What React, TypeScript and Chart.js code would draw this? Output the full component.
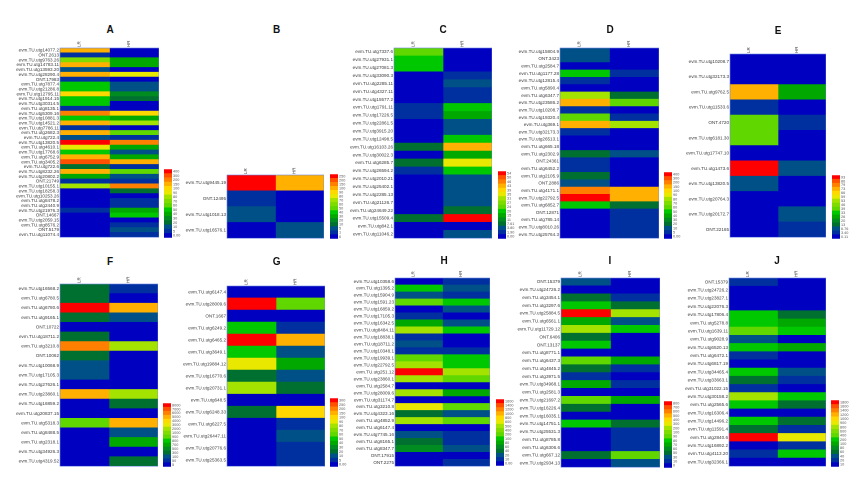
import React, { useEffect, useRef } from "react";
import { Chart, registerables } from "chart.js";

Chart.register(...registerables);

const columns = ["LR", "HR"];
const palette = ["#0000c0", "#0030a0", "#005088", "#007030", "#008c20", "#00a800", "#00c800", "#60d800", "#80dc00", "#a4e200", "#e8e800", "#ffd800", "#ffb000", "#ff8000", "#ff5000", "#ff0000"];
const g = (s: string) => (s.startsWith("ONT") ? s : "evm.TU.utg" + s);

const aRows = ["14077.2", "ONT.2613", "9763.26", "14783.11", "13593.20", "28290.4", "ONT.17983", "7877.4", "21286.8", "12795.11", "1914.15", "30314.5", "8135.1", "5309.16", "10881.3", "14521.2", "7786.11", "2682.3", "722.4", "13820.5", "4610.1", "17768.6", "6752.9", "3405.2", "722.6", "8232.26", "20802.2", "ONT.21749", "10155.1", "18258.3", "10253.26", "8478.2", "2440.9", "21976.3", "ONT.14667", "2059.15", "8576.2", "ONT.5179", "11074.4"];
const aLR = [150, 5, 70, 150, 10, 150, 5, 50, 50, 100, 50, 50, 5, 200, 50, 150, 5, 150, 10, 400, 90, 50, 150, 300, 20, 150, 40, 5, 80, 0, 0, 0, 0, 5, 0, 0, 0, 0, 0];
const aHR = [0, 0, 40, 40, 0, 90, 0, 10, 10, 30, 20, 0, 0, 100, 40, 80, 0, 60, 5, 200, 40, 10, 40, 150, 5, 60, 10, 5, 200, 20, 0, 5, 5, 40, 50, 0, 5, 10, 5];
const aTicks = ["0.00", "5", "10", "20", "30", "40", "50", "60", "70", "80", "90", "100", "150", "200", "300", "400"];

const bRows = ["9445.19", "ONT.12495", "1018.13", "16576.1"];
const bLR = [250, 1, 5, 0];
const bHR = [100, 0, 0, 5];
const bTicks = ["0", "1", "5", "10", "20", "30", "40", "50", "60", "70", "80", "90", "100", "150", "200", "250"];

const cRows = ["7337.6", "27931.1", "27081.3", "33090.3", "2285.11", "4327.11", "15577.2", "1791.11", "17226.5", "22861.5", "3915.20", "12498.5", "16103.26", "30022.3", "6285.7", "26594.2", "2010.21", "25402.1", "2285.13", "21126.7", "24649.22", "15509.4", "842.1", "11046.2"];
const cLR = [24, 20, 20, 0, 0, 0, 0, 1.9, 1.9, 0, 0, 0, 7.61, 0, 7.61, 1.9, 0, 0, 0, 0, 0, 7.61, 0, 0];
const cHR = [0, 0, 0, 1.9, 3.8, 1.9, 1.9, 20, 15, 3.8, 3.8, 20, 43, 15, 35, 20, 3.8, 3.8, 3.8, 3.8, 7.61, 54, 0, 3.8];
const cTicks = ["0.00", "1.90", "3.80", "7.61", "11", "15", "20", "24", "27", "31", "35", "39", "43", "46", "50", "54"];

const dRows = ["15804.9", "ONT.3423", "2584.7", "1177.28", "12815.4", "5890.4", "6347.7", "23586.2", "10208.7", "19320.4", "369.1", "32173.3", "26513.1", "665.18", "2302.9", "ONT.24361", "6452.2", "2105.9", "ONT.2886", "4171.1", "22792.5", "6852.7", "ONT.12871", "785.14", "8010.26", "25764.3"];
const dLR = [10, 10, 0, 50, 5, 0, 80, 150, 5, 60, 150, 5, 0, 0, 20, 5, 5, 20, 10, 200, 400, 50, 0, 0, 0, 0];
const dHR = [0, 0, 0, 5, 0, 0, 20, 60, 0, 5, 80, 0, 0, 0, 10, 0, 0, 0, 0, 150, 150, 20, 5, 5, 5, 5];
const dTicks = ["0.00", "5", "10", "20", "30", "40", "50", "60", "70", "80", "90", "100", "150", "200", "300", "400"];

const eRows = ["10208.7", "32173.3", "9762.5", "11533.6", "ONT.4720", "6181.30", "17747.10", "1473.6", "13820.5", "20764.3", "20172.7", "ONT.22165"];
const eLR = [0.11, 0.11, 73, 3.4, 39, 39, 0.11, 93, 6.76, 0.11, 0.11, 0.11];
const eHR = [0.11, 0.11, 26, 0.11, 3.4, 0.11, 0.11, 6.76, 0.11, 0.11, 6.76, 3.4];
const eTicks = ["0.11", "3.40", "6.76", "13", "20", "26", "33", "39", "46", "53", "59", "66", "73", "79", "86", "93"];

const fRows = ["16568.2", "6780.5", "6780.6", "9165.1", "ONT.10722", "18711.2", "3210.8", "ONT.10062", "10068.9", "17105.3", "27626.1", "23860.1", "16859.2", "20837.15", "5318.3", "8488.5", "2318.1", "34926.3", "4319.52"];
const fLR = [300, 300, 8000, 300, 5, 300, 6000, 300, 100, 100, 5, 5000, 5, 5, 900, 5, 5, 5, 5];
const fHR = [50, 5, 5000, 100, 5, 5, 2000, 5, 5, 5, 5, 2000, 300, 5, 5000, 100, 700, 5, 300];
const fTicks = ["5", "50", "100", "300", "500", "700", "800", "900", "1000", "2000", "3000", "4000", "5000", "6000", "7000", "8000"];

const gRows = ["6147.4", "28009.6", "ONT.1667", "6249.2", "6465.2", "3649.1", "19884.12", "16770.6", "20731.1", "648.5", "6248.33", "6227.5", "26447.11", "20776.6", "25363.5"];
const gLR = [0, 300, 0, 50, 300, 50, 90, 20, 80, 0, 20, 0, 0, 0, 0];
const gHR = [0, 60, 0, 5, 150, 10, 40, 10, 20, 0, 100, 5, 10, 5, 5];
const gTicks = ["0.00", "5", "10", "20", "30", "40", "50", "60", "70", "80", "90", "100", "150", "200", "250", "300"];

const hRows = ["10358.6", "1395.2", "15904.9", "1591.23", "16859.2", "17105.3", "16342.5", "8484.11", "18838.1", "18711.2", "10348.1", "19939.1", "22792.5", "251.12", "23860.1", "2584.7", "28009.6", "31174.7", "3210.8", "4323.16", "4852.9", "6147.4", "7745.16", "8165.1", "8347.7", "ONT.17915", "ONT.2275"];
const hLR = [0, 100, 20, 200, 0, 10, 80, 500, 10, 20, 10, 200, 500, 1600, 500, 0, 500, 0, 600, 40, 500, 0, 20, 40, 60, 0, 0];
const hHR = [10, 20, 10, 100, 20, 0, 20, 100, 0, 0, 10, 100, 100, 500, 200, 0, 80, 0, 200, 20, 200, 0, 10, 10, 20, 0, 10];
const hTicks = ["0.00", "10", "20", "40", "60", "80", "100", "200", "400", "500", "600", "800", "1000", "1200", "1400", "1600"];

const iRows = ["ONT.15379", "24726.2", "3454.1", "3297.6", "25884.5", "6561.1", "11729.12", "ONT.6406", "ONT.13137", "8771.1", "6437.3", "4845.2", "3971.5", "34968.1", "2581.3", "21697.2", "16226.4", "16035.1", "14751.1", "25531.3", "8785.8", "6306.6", "667.12", "2934.13"];
const iLR = [30, 0, 50, 80, 800, 70, 200, 50, 80, 0, 90, 50, 10, 70, 0, 90, 50, 0, 80, 0, 0, 0, 50, 0];
const iHR = [0, 0, 10, 50, 200, 30, 80, 0, 0, 0, 70, 10, 0, 10, 0, 70, 0, 0, 50, 10, 10, 10, 90, 30];
const iTicks = ["0", "10", "30", "50", "60", "70", "80", "90", "100", "200", "300", "400", "500", "600", "700", "800"];

const jRows = ["ONT.15379", "24726.2", "23827.1", "22076.3", "17806.4", "5278.8", "1639.11", "9028.9", "6520.13", "6472.1", "6817.19", "34465.4", "33663.1", "31022.15", "30158.2", "2565.6", "16306.4", "14496.2", "11591.4", "2840.6", "16892.2", "4113.20", "32366.1"];
const jLR = [20, 10, 10, 10, 200, 200, 400, 40, 200, 20, 10, 200, 60, 20, 800, 200, 10, 200, 60, 1800, 10, 20, 10];
const jHR = [10, 10, 10, 10, 60, 100, 200, 10, 100, 10, 10, 40, 20, 10, 200, 60, 10, 60, 20, 900, 20, 200, 10];
const jTicks = ["10", "20", "40", "60", "80", "100", "200", "400", "600", "800", "900", "1000", "1200", "1400", "1600", "1800"];

// layout of each panel: plot box, colour bar box, title centre
const panels = [
  { name: "A", rows: aRows, lr: aLR, hr: aHR, ticks: aTicks, plot: [60, 47.7, 159, 241], bar: [164, 166, 172, 241], title: [110, 30] },
  { name: "B", rows: bRows, lr: bLR, hr: bHR, ticks: bTicks, plot: [227.3, 175, 324.7, 241.7], bar: [329.7, 171, 337.7, 241.7], title: [276.7, 30] },
  { name: "C", rows: cRows, lr: cLR, hr: cHR, ticks: cTicks, plot: [394.3, 47.7, 492.3, 241.7], bar: [497.7, 168, 506, 241.7], title: [443, 30] },
  { name: "D", rows: dRows, lr: dLR, hr: dHR, ticks: dTicks, plot: [560.3, 47.7, 659.3, 241.7], bar: [664, 169, 672.3, 241.7], title: [610, 30] },
  { name: "E", rows: eRows, lr: eLR, hr: eHR, ticks: eTicks, plot: [730, 54.3, 826.3, 241.7], bar: [831.7, 171.7, 840, 241.7], title: [778, 31] },
  { name: "F", rows: fRows, lr: fLR, hr: fHR, ticks: fTicks, plot: [60, 284, 158.3, 470], bar: [163.3, 400.3, 171.7, 470], title: [110, 262] },
  { name: "G", rows: gRows, lr: gLR, hr: gHR, ticks: gTicks, plot: [227.3, 286, 325, 470], bar: [330.3, 395.3, 338.3, 470], title: [276.7, 262] },
  { name: "H", rows: hRows, lr: hLR, hr: hHR, ticks: hTicks, plot: [395, 277.7, 490.3, 469.3], bar: [495.7, 396, 503.7, 469.3], title: [444, 261] },
  { name: "I", rows: iRows, lr: iLR, hr: iHR, ticks: iTicks, plot: [560.7, 277.7, 659.3, 470.3], bar: [664.3, 397.7, 672.7, 470.3], title: [610, 261] },
  { name: "J", rows: jRows, lr: jLR, hr: jHR, ticks: jTicks, plot: [729, 277.7, 826.3, 470], bar: [831.3, 397.3, 839.3, 470], title: [777, 261] },
];

const LABEL_W = 58;
const HEAD_H = 9;
const TEXT = "#3a3a3a";
const FONT = "Liberation Sans";
const SCALE = 2;

function colourFor(value: number, ticks: string[]) {
  let idx = 0;
  ticks.forEach((t, i) => {
    if (parseFloat(t) <= value) idx = i;
  });
  return palette[idx];
}

const frame = {
  id: "frame",
  afterDraw(chart: any) {
    const { ctx, chartArea: a } = chart;
    ctx.save();
    ctx.strokeStyle = "#6f86e0";
    ctx.lineWidth = 0.6;
    ctx.strokeRect(a.left, a.top, a.right - a.left, a.bottom - a.top);
    ctx.restore();
  },
};

function Heat({ p }: { p: (typeof panels)[number] }) {
  const ref = useRef<HTMLCanvasElement>(null);
  useEffect(() => {
    const chart = new Chart(ref.current!, {
      type: "bar",
      data: {
        labels: p.rows.map(g),
        datasets: [p.lr, p.hr].map((vals, i) => ({
          label: columns[i],
          data: vals.map(() => 1),
          backgroundColor: vals.map((v) => colourFor(v, p.ticks)),
          borderWidth: 0,
          barPercentage: 1,
          categoryPercentage: 1,
        })),
      },
      options: {
        indexAxis: "y",
        animation: false,
        responsive: false,
        devicePixelRatio: SCALE,
        layout: { padding: 0 },
        plugins: { legend: { display: false }, tooltip: { enabled: false } },
        scales: {
          x: {
            type: "linear",
            position: "top",
            stacked: true,
            min: 0,
            max: 2,
            grid: { display: false, drawTicks: false },
            border: { display: false },
            afterBuildTicks: (s: any) => {
              s.ticks = [{ value: 0.5 }, { value: 1.5 }];
            },
            afterFit: (s: any) => {
              s.height = HEAD_H;
            },
            ticks: {
              callback: (v: any) => columns[Math.floor(v)],
              font: { size: 4.5, family: FONT },
              color: TEXT,
              padding: 1,
              minRotation: 90,
              maxRotation: 90,
            },
          },
          y: {
            stacked: true,
            grid: { display: false, drawTicks: false },
            border: { display: false },
            afterFit: (s: any) => {
              s.width = LABEL_W;
            },
            ticks: { autoSkip: false, font: { size: 4.6, family: FONT }, color: TEXT, padding: 1 },
          },
        },
      } as any,
      plugins: [frame],
    });
    return () => chart.destroy();
  }, [p]);
  const [x0, y0, x1, y1] = p.plot;
  const w = Math.round(x1 - x0 + LABEL_W);
  const h = Math.round(y1 - y0 + HEAD_H);
  return <canvas ref={ref} width={w} height={h} style={{ position: "absolute", left: x0 - LABEL_W, top: y0 - HEAD_H, width: w, height: h }} />;
}

function ColourBar({ p }: { p: (typeof panels)[number] }) {
  const ref = useRef<HTMLCanvasElement>(null);
  const labelW = 12;
  useEffect(() => {
    const labels = [...p.ticks].reverse();
    const chart = new Chart(ref.current!, {
      type: "bar",
      data: {
        labels,
        datasets: [
          {
            data: labels.map(() => 1),
            backgroundColor: [...palette].reverse(),
            borderWidth: 0,
            barPercentage: 1,
            categoryPercentage: 1,
          },
        ],
      },
      options: {
        indexAxis: "y",
        animation: false,
        responsive: false,
        devicePixelRatio: SCALE,
        layout: { padding: 0 },
        plugins: { legend: { display: false }, tooltip: { enabled: false } },
        scales: {
          x: { display: false, min: 0, max: 1 },
          y: {
            position: "right",
            grid: { display: false, drawTicks: false },
            border: { display: false },
            afterFit: (s: any) => {
              s.width = labelW;
            },
            ticks: { autoSkip: false, font: { size: 3.8, family: FONT }, color: "#555", padding: 1 },
          },
        },
      } as any,
    });
    return () => chart.destroy();
  }, [p]);
  const [x0, y0, x1, y1] = p.bar;
  const w = Math.round(x1 - x0 + labelW);
  const h = Math.round(y1 - y0);
  return <canvas ref={ref} width={w} height={h} style={{ position: "absolute", left: x0, top: y0, width: w, height: h }} />;
}

export default function App() {
  return (
    <div style={{ position: "absolute", left: 0, top: 0, width: 854, height: 477, background: "#fff", overflow: "hidden" }}>
      {panels.map((p) => (
        <React.Fragment key={p.name}>
          <Heat p={p} />
          <ColourBar p={p} />
          <div
            style={{
              position: "absolute",
              left: p.title[0] - 10,
              top: p.title[1] - 7,
              width: 20,
              textAlign: "center",
              font: `bold 10px "${FONT}"`,
              lineHeight: "14px",
              color: "#111",
            }}
          >
            {p.name}
          </div>
        </React.Fragment>
      ))}
    </div>
  );
}
